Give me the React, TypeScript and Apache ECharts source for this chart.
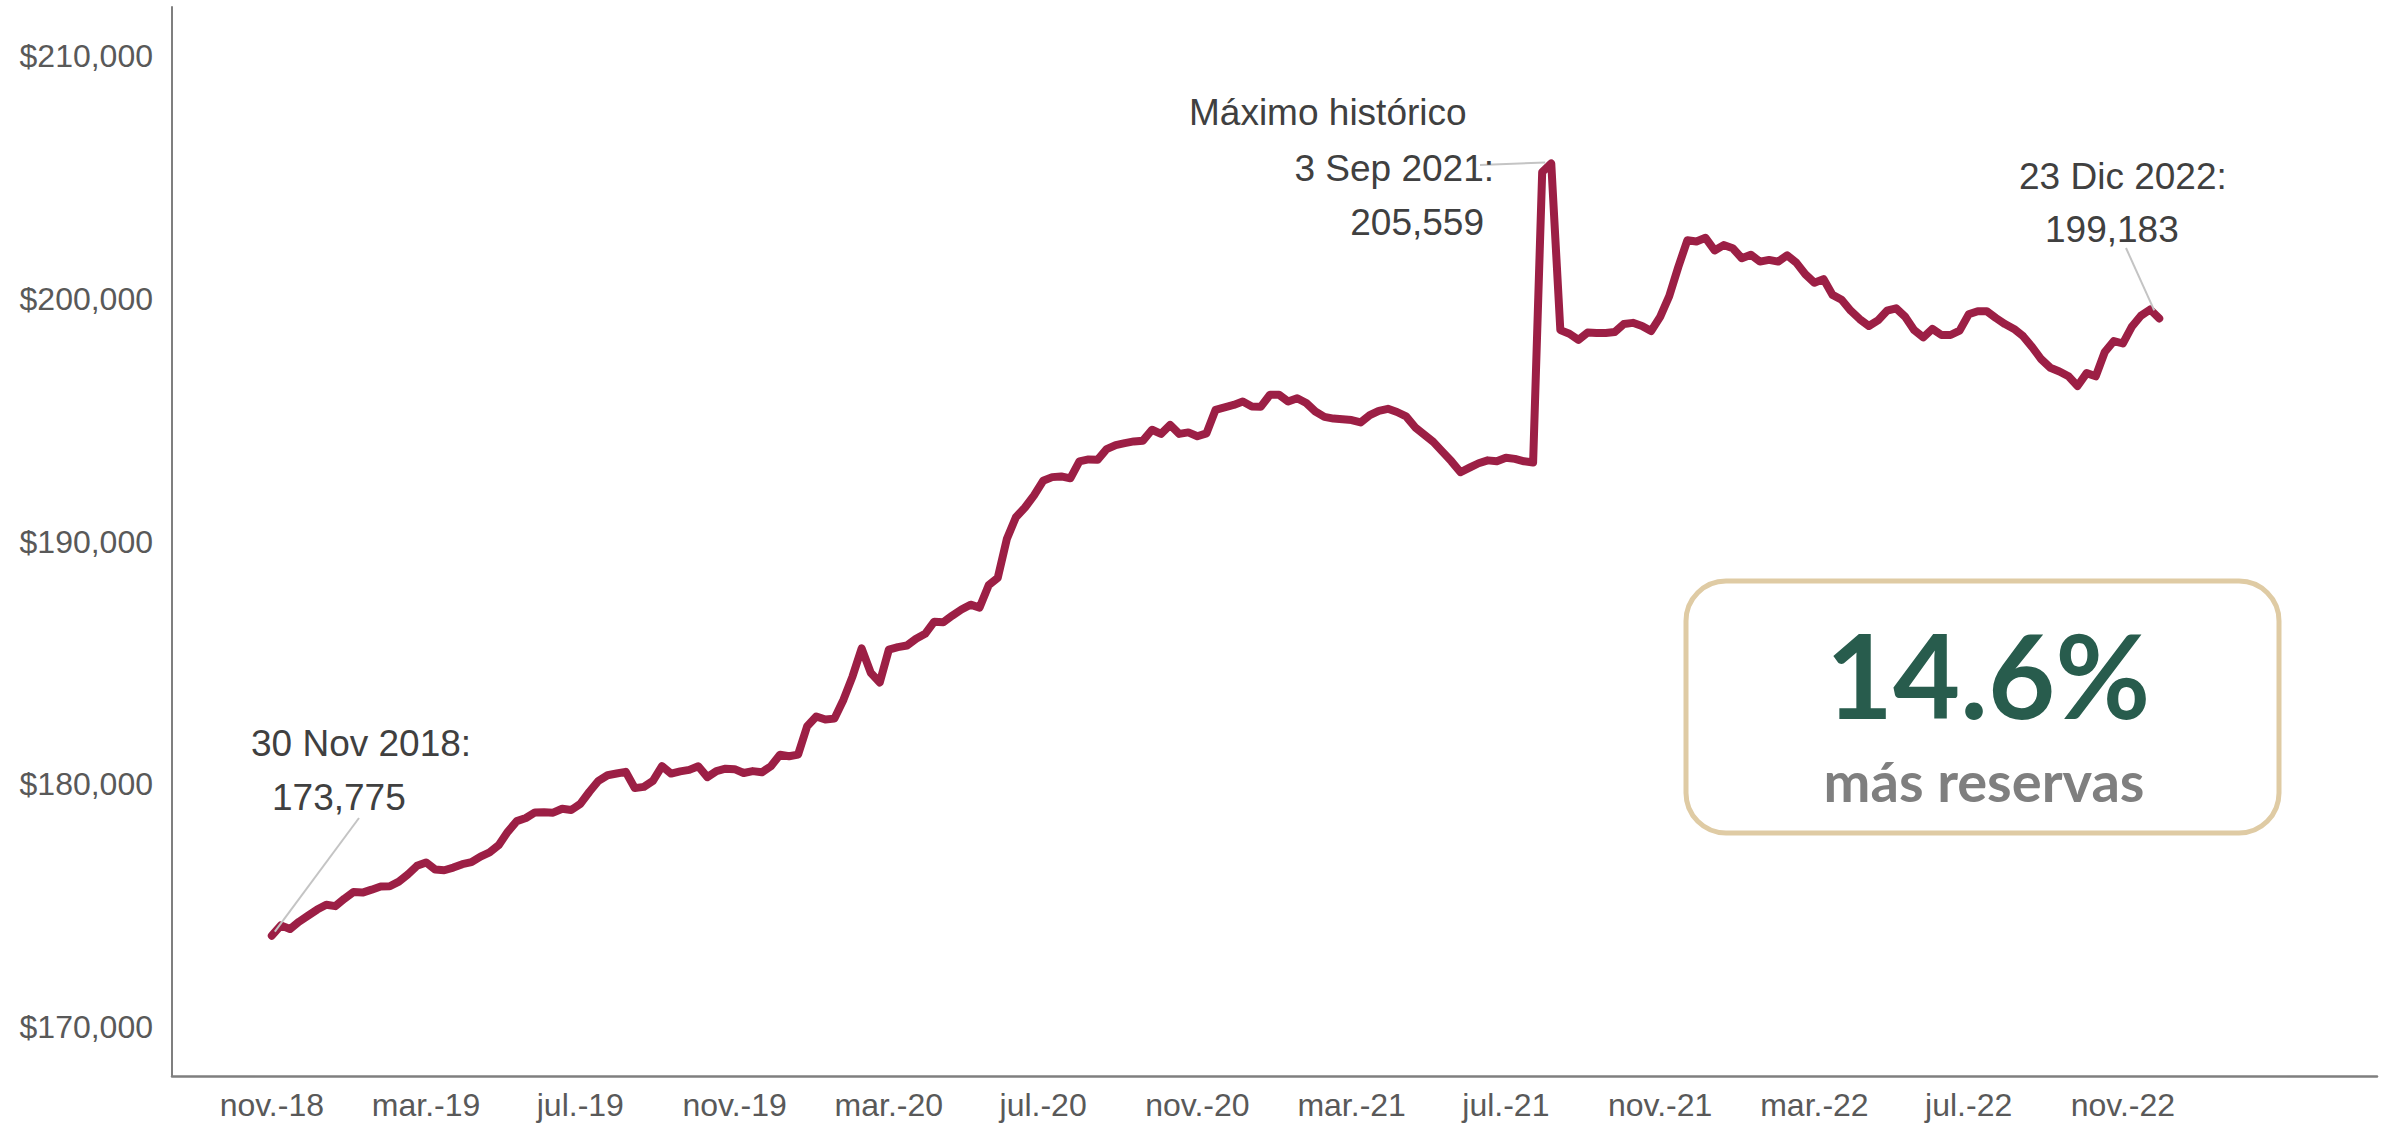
import React, { useEffect, useRef } from "react";
import * as echarts from "echarts";

// X tick labels, one every 17 weekly observations
const xTickLabels = [
  "nov.-18", "mar.-19", "jul.-19", "nov.-19", "mar.-20", "jul.-20", "nov.-20",
  "mar.-21", "jul.-21", "nov.-21", "mar.-22", "jul.-22", "nov.-22",
];
const xTickStep = 17;

// Y tick values (millions of USD)
const yTickValues = [170000, 180000, 190000, 200000, 210000];

// Weekly international reserves (millions of USD), 30 Nov 2018 -> 23 Dic 2022
const reserves = [
  173775, 174200, 174050, 174350, 174600, 174850, 175050, 174990, 175300, 175570,
  175550, 175670, 175800, 175810, 176000, 176300, 176650, 176790, 176500, 176470,
  176580, 176720, 176800, 177030, 177200, 177500, 178050, 178490, 178620, 178850,
  178860, 178840, 179000, 178950, 179200, 179700, 180150, 180380, 180450, 180520,
  179850, 179900, 180150, 180750, 180450, 180540, 180600, 180750, 180300, 180550,
  180650, 180630, 180470, 180550, 180500, 180750, 181220, 181160, 181230, 182400,
  182800, 182670, 182710, 183490, 184450, 185600, 184600, 184200, 185550, 185650,
  185720, 186000, 186200, 186700, 186680, 186950, 187200, 187400, 187280, 188200,
  188500, 190100, 191000, 191400, 191900, 192500, 192650, 192680, 192600, 193300,
  193380, 193360, 193800, 193970, 194050, 194120, 194150, 194600, 194430, 194800,
  194430, 194490, 194330, 194450, 195420, 195520, 195620, 195760, 195560, 195550,
  196040, 196040, 195760, 195900, 195700, 195350, 195130, 195060, 195030, 195000,
  194900, 195200, 195380, 195460, 195330, 195150, 194700, 194400, 194100, 193700,
  193300, 192850, 193040, 193220, 193340, 193300, 193450, 193400, 193300, 193250,
  205200, 205559, 198700, 198550, 198300, 198600, 198580, 198580, 198620, 198950,
  199000, 198870, 198660, 199250, 200100, 201300, 202400, 202350, 202500, 201980,
  202200, 202070, 201660, 201800, 201520, 201590, 201520, 201780, 201480, 201000,
  200650, 200800, 200150, 199950, 199500, 199150, 198870, 199100, 199500, 199600,
  199250, 198700, 198400, 198750, 198500, 198500, 198680, 199350, 199480, 199480,
  199200, 198950, 198750, 198450, 198000, 197500, 197150, 197000, 196800, 196400,
  196930, 196800, 197800, 198250, 198150, 198850, 199300, 199550, 199183,
];

const startLabel = ["30 Nov 2018:", "173,775"];
const peakLabel = ["Máximo histórico", "3 Sep 2021:", "205,559"];
const endLabel = ["23 Dic 2022:", "199,183"];
const boxBig = "14.6%";
const boxSmall = "más reservas";

const FONT = "'Liberation Sans', Arial, sans-serif";
const TXT = "#404040";

export default function App() {
  const ref = useRef<HTMLDivElement>(null);

  useEffect(() => {
    if (!ref.current) return;
    const chart = echarts.init(ref.current, null, { renderer: "svg" });
    const data = reserves.map((v, i) => [i, v]);

    chart.setOption({
      animation: false,
      backgroundColor: "#ffffff",
      grid: { left: 172, right: 20, top: 7, bottom: 49, containLabel: false },
      xAxis: {
        type: "value",
        min: -11,
        max: 232,
        axisLine: { show: true, onZero: false, lineStyle: { color: "#7f7f7f", width: 2.5 } },
        axisTick: { show: false },
        splitLine: { show: false },
        axisLabel: {
          customValues: xTickLabels.map((_, k) => k * xTickStep),
          formatter: (v: number) => xTickLabels[Math.round(v / xTickStep)] ?? "",
          color: "#595959",
          fontSize: 32,
          fontFamily: FONT,
          margin: 13,
        },
      },
      yAxis: {
        type: "value",
        min: 168000,
        max: 212000,
        axisLine: { show: true, onZero: false, lineStyle: { color: "#7f7f7f", width: 2 } },
        axisTick: { show: false },
        splitLine: { show: false },
        axisLabel: {
          customValues: yTickValues,
          formatter: (v: number) => "$" + v.toLocaleString("en-US"),
          color: "#595959",
          fontSize: 32,
          fontFamily: FONT,
          margin: 19,
        },
      },
      series: [
        {
          type: "line",
          data,
          symbol: "none",
          showSymbol: false,
          lineStyle: { color: "#9c1f45", width: 8, join: "round", cap: "round" },
          z: 3,
        },
      ],
    });

    const pxOf = (i: number) =>
      chart.convertToPixel({ gridIndex: 0 }, [i, reserves[i]]) as number[];
    let peakIdx = 0;
    reserves.forEach((v, i) => {
      if (v > reserves[peakIdx]) peakIdx = i;
    });
    const p0 = pxOf(0);
    const pk = pxOf(peakIdx);
    const pe = pxOf(reserves.length - 1);

    const txt = (text: string, x: number, y: number, align: string) => ({
      type: "text",
      x,
      y,
      z: 10,
      style: {
        text,
        fill: TXT,
        font: `37px ${FONT}`,
        lineHeight: 42,
        textAlign: align,
        textVerticalAlign: "middle",
      },
    });
    const leader = (x1: number, y1: number, x2: number, y2: number) => ({
      type: "line",
      z: 9,
      shape: { x1, y1, x2, y2 },
      style: { stroke: "#c4c4c4", lineWidth: 2 },
    });

    chart.setOption({
      graphic: [
        leader(p0[0] + 3, p0[1] - 4, 359, 818),
        leader(1480, 165, pk[0] - 6, pk[1] - 1),
        leader(2126, 248, pe[0] - 5, pe[1] - 8),
        txt(startLabel[0], 251, 743, "left"),
        txt(startLabel[1], 272, 797, "left"),
        txt(peakLabel[0], 1189, 112, "left"),
        txt(peakLabel[1], 1494, 168, "right"),
        txt(peakLabel[2], 1484, 222, "right"),
        txt(endLabel[0], 2019, 176, "left"),
        txt(endLabel[1], 2045, 229, "left"),
        {
          type: "rect",
          z: 8,
          shape: { x: 1686, y: 581, width: 593, height: 252, r: 40 },
          style: { fill: "#ffffff", stroke: "#dfcba4", lineWidth: 5 },
        },
        {
          type: "text",
          z: 10,
          x: 1988,
          y: 674,
          style: {
            text: boxBig,
            fill: "#285c4d",
            font: "bold 116px Lato, 'Open Sans', sans-serif",
            lineHeight: 92,
            textAlign: "center",
            textVerticalAlign: "middle",
          },
        },
        {
          type: "text",
          z: 10,
          x: 1984,
          y: 780,
          style: {
            text: boxSmall,
            fill: "#7f7f7f",
            font: "bold 56px Lato, 'Open Sans', sans-serif",
            lineHeight: 48,
            textAlign: "center",
            textVerticalAlign: "middle",
          },
        },
      ],
    });

    return () => chart.dispose();
  }, []);

  return (
    <div
      ref={ref}
      style={{ position: "fixed", left: 0, top: 0, width: 2397, height: 1125 }}
    />
  );
}
